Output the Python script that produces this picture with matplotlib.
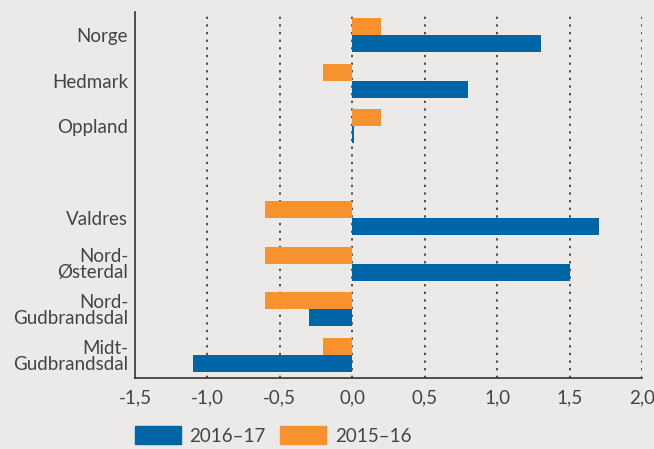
import numpy as np
import matplotlib.pyplot as plt
from matplotlib.patches import Patch

# Data
categories = ['Norge', 'Hedmark', 'Oppland', '', 'Valdres',
              'Nord-\nØsterdal', 'Nord-\nGudbrandsdal', 'Midt-\nGudbrandsdal']
vals_1617 = [1.3, 0.8, 0.01, np.nan, 1.7, 1.5, -0.3, -1.1]
vals_1516 = [0.2, -0.2, 0.2, np.nan, -0.6, -0.6, -0.6, -0.2]
xticks = [-1.5, -1.0, -0.5, 0.0, 0.5, 1.0, 1.5, 2.0]
xtick_labels = ['-1,5', '-1,0', '-0,5', '0,0', '0,5', '1,0', '1,5', '2,0']

BG = '#ebeae8'
BLUE = '#0065a6'
ORANGE = '#f7922f'
TXT = '#444444'
FS = 13.5

plt.rcParams['font.family'] = ['Lato', 'DejaVu Sans']

fig = plt.figure(figsize=(6.54, 4.49), dpi=100, facecolor=BG)
ax = fig.add_axes([0.2064, 0.1581, 0.7753, 0.8152], facecolor=BG)

y = np.arange(len(categories))
h = 0.37
ax.barh(y + h / 2, vals_1617, height=h, color=BLUE, zorder=3)
ax.barh(y - h / 2, vals_1516, height=h, color=ORANGE, zorder=3)

ax.set_ylim(len(categories) - 0.5, -0.5)
ax.set_xlim(-1.5, 2.0)
ax.set_yticks(y)
ax.set_yticklabels(categories, fontsize=FS, color=TXT, linespacing=0.92)
ax.set_xticks(xticks)
ax.set_xticklabels(xtick_labels, fontsize=FS, color=TXT)
ax.tick_params(axis='y', length=0, pad=5)
ax.tick_params(axis='x', length=0, pad=8)

for xv in xticks[1:]:
    ax.axvline(xv, color='#222222', linestyle=(0, (1.5, 3.5)), linewidth=1.1, zorder=2)

for s in ['top', 'right']:
    ax.spines[s].set_visible(False)
for s in ['left', 'bottom']:
    ax.spines[s].set_color('#333333')
    ax.spines[s].set_linewidth(1.2)

handles = [Patch(color=BLUE, label='2016–17'), Patch(color=ORANGE, label='2015–16')]
fig.legend(handles=handles, loc='lower left', bbox_to_anchor=(0.18, -0.028),
           ncol=2, frameon=False, handlelength=2.45, handleheight=1.1,
           handletextpad=0.45, columnspacing=0.8, labelcolor=TXT,
           prop={'size': FS})

fig.savefig('out.png', dpi=100, facecolor=BG)
